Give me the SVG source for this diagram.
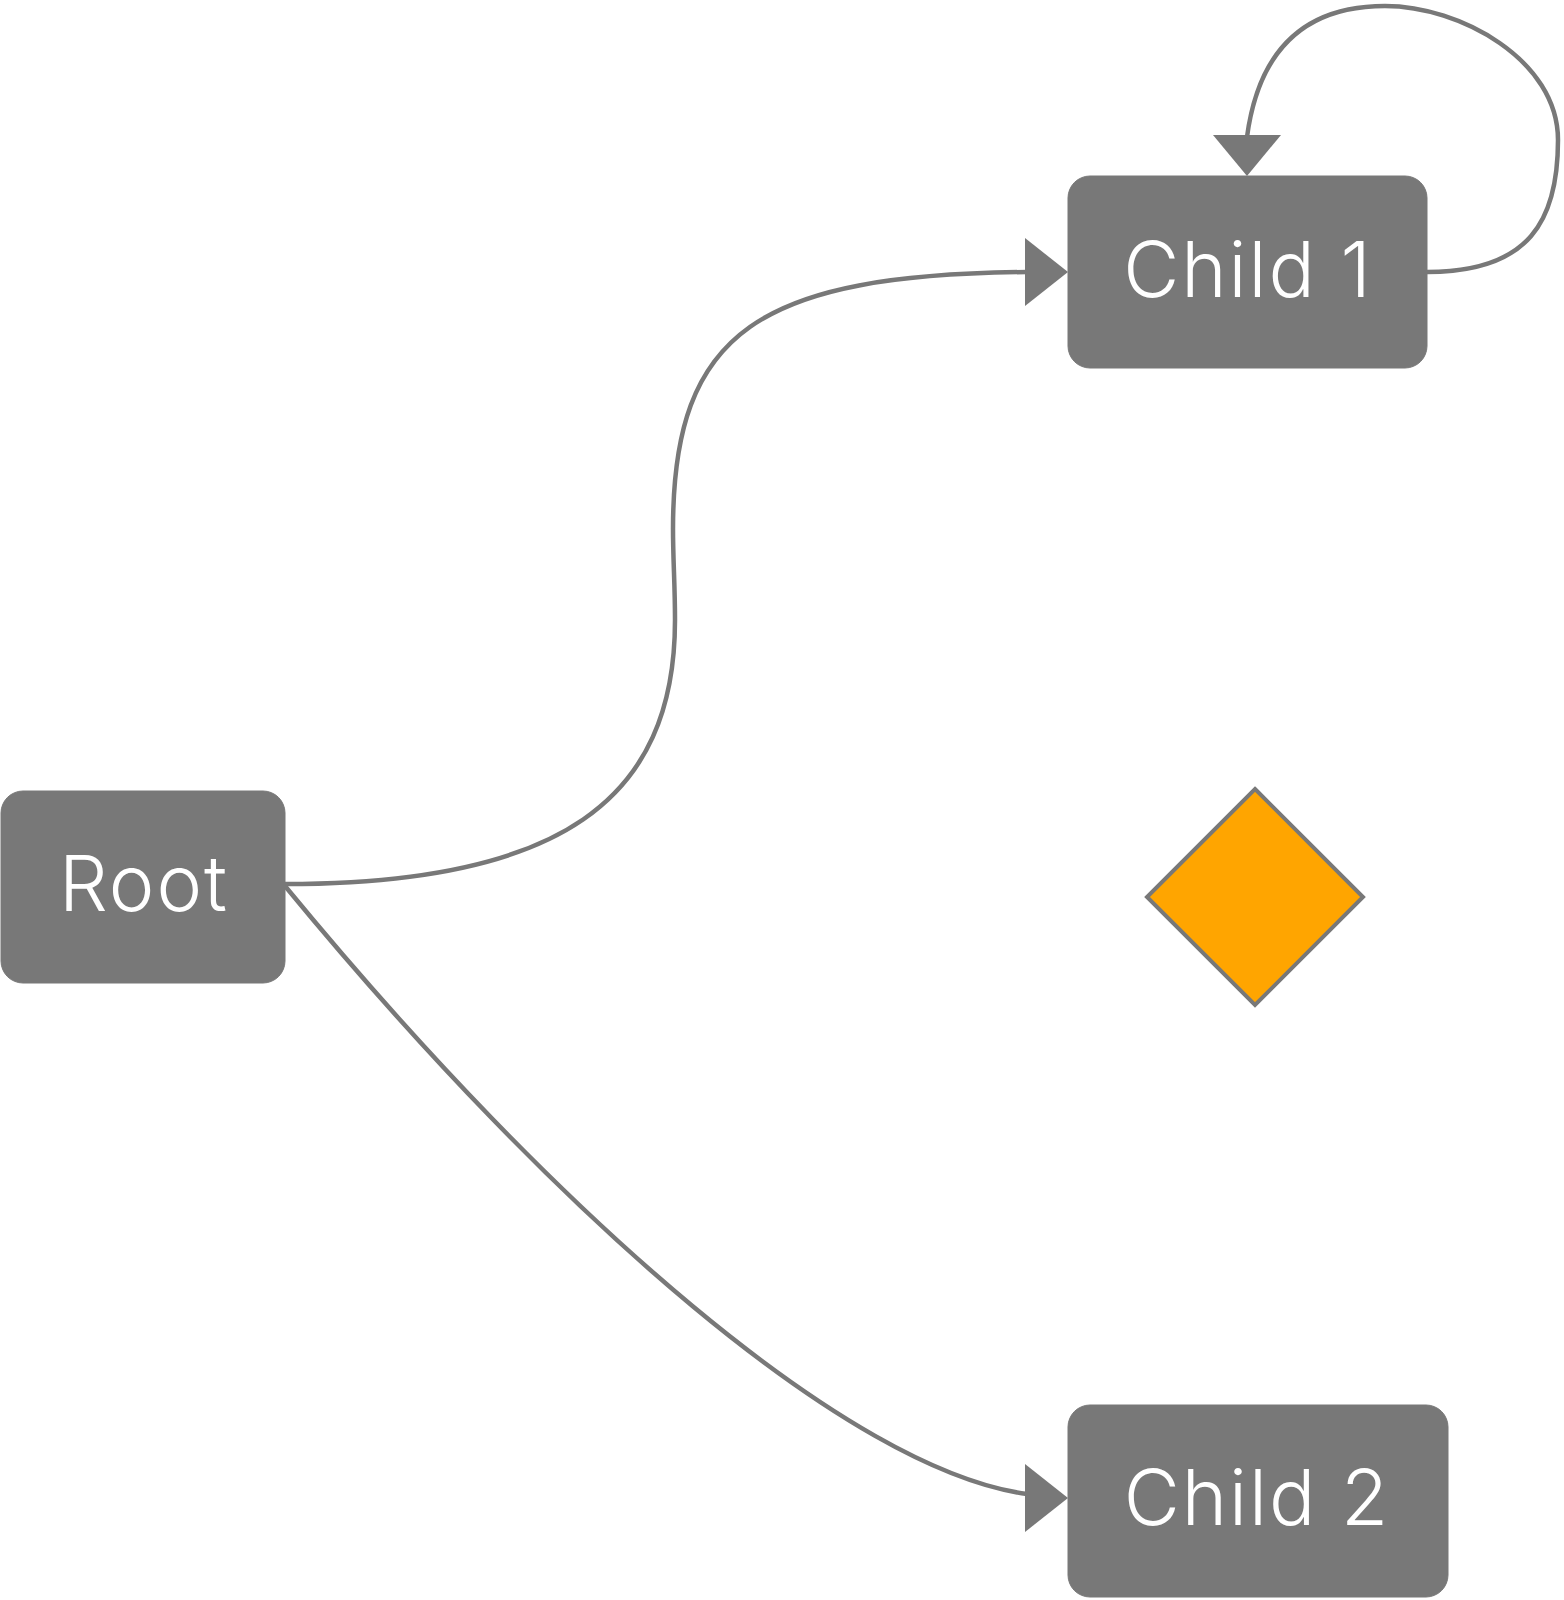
<svg xmlns="http://www.w3.org/2000/svg" width="1564" height="1600" viewBox="0 0 1564 1600">
<style>
.node rect{fill:#787878;stroke:#787878;stroke-width:1}
.node text{fill:#ffffff;font-family:Inter,"Noto Sans","DejaVu Sans",sans-serif;font-size:77px;font-weight:300;letter-spacing:2px;text-anchor:middle}
.edge{fill:none;stroke:#787878;stroke-width:4.5}
.head{fill:#787878;stroke:none}
</style>
<rect width="1564" height="1600" fill="#ffffff"/>
<g id="connectors">
<path class="edge" d="M285,884 C560,884 675,800 675,620 C675,585 673,560 673,529 C673,330 760,275 1027,272"/>
<polygon class="head" points="1025,238 1068,272 1025,306"/>
<path class="edge" d="M285,886 C560,1220 850,1470 1027,1494"/>
<polygon class="head" points="1025,1464 1068,1498 1025,1532"/>
<path class="edge" d="M1427,272 C1530,272 1558,220 1558,140 C1558,60 1460,6 1385,6 C1300,6 1258,55 1247,137"/>
<polygon class="head" points="1213,135 1281,135 1247,176"/>
</g>
<g id="root" class="node">
<rect x="1" y="791" width="284" height="192" rx="22" ry="22"/>
<text x="144" y="911">Root</text>
</g>
<g id="child1" class="node">
<rect x="1068" y="176" width="359" height="192" rx="22" ry="22"/>
<text x="1248" y="297">Child 1</text>
</g>
<g id="child2" class="node">
<rect x="1068" y="1405" width="380" height="192" rx="22" ry="22"/>
<text x="1257" y="1525">Child 2</text>
</g>
<g id="diamond">
<polygon points="1255,789 1363,897 1255,1005 1147,897" fill="#FFA500" stroke="#787878" stroke-width="4"/>
</g>
</svg>
